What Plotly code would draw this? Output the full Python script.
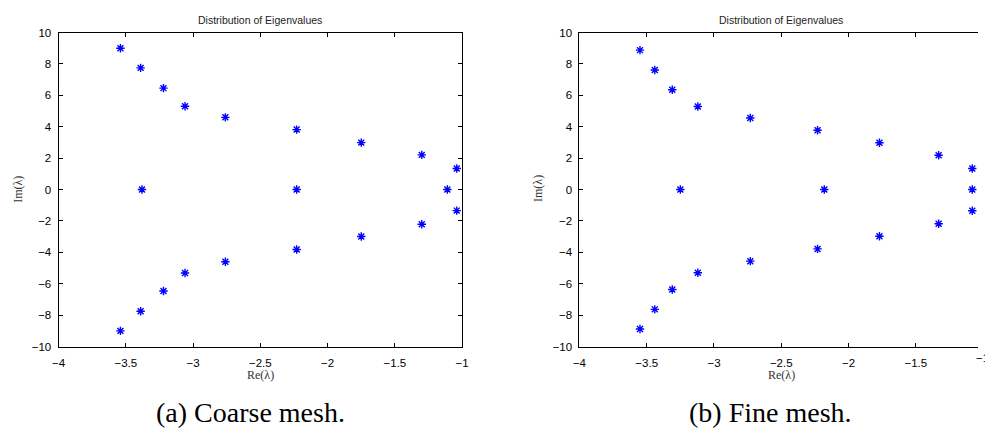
import plotly.graph_objects as go

# ---- data ----
coarse_re = [-3.54, -3.39, -3.22, -3.06, -2.76, -2.23, -1.75, -1.30, -1.04,
             -3.38, -2.23, -1.11,
             -3.54, -3.39, -3.22, -3.06, -2.76, -2.23, -1.75, -1.30, -1.04]
coarse_im = [9.00, 7.75, 6.46, 5.31, 4.60, 3.82, 2.99, 2.21, 1.34,
             0.0, 0.0, 0.0,
             -9.00, -7.75, -6.46, -5.31, -4.60, -3.82, -2.99, -2.21, -1.34]

fine_re = [-3.55, -3.44, -3.31, -3.12, -2.73, -2.23, -1.77, -1.33, -1.08,
           -3.25, -2.18, -1.08,
           -3.55, -3.44, -3.31, -3.12, -2.73, -2.23, -1.77, -1.33, -1.08]
fine_im = [8.88, 7.62, 6.36, 5.29, 4.56, 3.78, 2.98, 2.19, 1.34,
           0.0, 0.0, 0.0,
           -8.88, -7.63, -6.37, -5.30, -4.56, -3.78, -2.97, -2.18, -1.35]

x_ticks = [-4, -3.5, -3, -2.5, -2, -1.5, -1]
x_tick_labels = ["\u22124", "\u22123.5", "\u22123", "\u22122.5", "\u22122", "\u22121.5", "\u22121"]
y_ticks = [-10, -8, -6, -4, -2, 0, 2, 4, 6, 8, 10]
y_tick_labels = ["\u221210", "\u22128", "\u22126", "\u22124", "\u22122", "0", "2", "4", "6", "8", "10"]

title_text = "Distribution of Eigenvalues"
xlabel = "Re(\u03bb)"
ylabel = "Im(\u03bb)"
captions = ["(a) Coarse mesh.", "(b) Fine mesh."]

W, H = 985, 445
BLUE = "#0000ff"
TICKFONT = dict(family="Liberation Sans, Arial, sans-serif", size=11.5, color="#000000")

fig = go.Figure()

marker = dict(symbol="asterisk", size=7, color=BLUE, line=dict(color=BLUE, width=1.4))
fig.add_trace(go.Scatter(x=coarse_re, y=coarse_im, mode="markers", marker=marker,
                         xaxis="x", yaxis="y", showlegend=False))
fig.add_trace(go.Scatter(x=fine_re, y=fine_im, mode="markers", marker=marker,
                         xaxis="x2", yaxis="y2", showlegend=False))

# pixel geometry of the two axes boxes
L1, R1 = 52.3, 461.7
L2 = 580.7
px_per_unit = (R1 - L1) / 3.0
right_max = -4 + (W - L2) / px_per_unit
TOP, BOT = 27.3, 350.0
ydom = [1 - BOT / H, 1 - TOP / H]

common_x = dict(tickmode="array", tickvals=x_ticks, ticktext=x_tick_labels,
                ticks="inside", ticklen=4, tickwidth=1, tickcolor="#000000",
                showline=True, linecolor="#000000", linewidth=1,
                showgrid=False, zeroline=False, tickfont=TICKFONT,
                ticklabelstandoff=6, fixedrange=True)
common_y = dict(tickmode="array", tickvals=y_ticks, ticktext=y_tick_labels,
                range=[-10, 10], ticks="inside", ticklen=4, tickwidth=1, tickcolor="#000000",
                showline=True, linecolor="#000000", linewidth=1,
                showgrid=False, zeroline=False, tickfont=TICKFONT,
                ticklabelstandoff=4, fixedrange=True)

fig.update_layout(
    width=W, height=H, autosize=False,
    margin=dict(l=0, r=0, t=0, b=0, pad=0),
    paper_bgcolor="white", plot_bgcolor="white",
    xaxis=dict(common_x, domain=[L1 / W, R1 / W], range=[-4, -1], mirror="ticks", anchor="y"),
    yaxis=dict(common_y, domain=ydom, mirror="ticks", anchor="x"),
    xaxis2=dict(common_x, domain=[L2 / W, 1.0], range=[-4, right_max], mirror="ticks", anchor="y2"),
    yaxis2=dict(common_y, domain=ydom, mirror=False, anchor="x2"),
)

ann = []
titlefont = dict(family="Liberation Sans, Arial, sans-serif", size=10.5, color="#222222")
labelfont = dict(family="Liberation Serif, Times New Roman, serif", size=12, color="#333333")
capfont = dict(family="Liberation Serif, Times New Roman, serif", size=28, color="#000000")

for cx in [(L1 + R1) / 2, (L2 + L2 + 3 * px_per_unit) / 2]:
    ann.append(dict(text=title_text, x=cx / W, y=1 - 14 / H, xref="paper", yref="paper",
                    xanchor="center", yanchor="middle", showarrow=False, font=titlefont))
    ann.append(dict(text=xlabel, x=cx / W, y=1 - 379 / H, xref="paper", yref="paper",
                    xanchor="center", yanchor="middle", showarrow=False, font=labelfont))

for lx in [11, L2 - 42]:
    ann.append(dict(text=ylabel, x=lx / W, y=1 - 188 / H, xref="paper", yref="paper",
                    xanchor="center", yanchor="middle", showarrow=False, textangle=-90,
                    font=labelfont))

# clipped "-1" tick label at the right edge of panel (b)
ann.append(dict(text="\u22121", x=981 / W, y=1 - 362 / H, xref="paper", yref="paper",
                xanchor="left", yanchor="middle", showarrow=False, font=TICKFONT))

for cx, cap in zip([247, 775], captions):
    ann.append(dict(text=cap, x=cx / W, y=1 - 418 / H, xref="paper", yref="paper",
                    xanchor="center", yanchor="middle", showarrow=False, font=capfont))

fig.update_layout(annotations=ann)

fig.write_html("out.html", config={"displayModeBar": False})
